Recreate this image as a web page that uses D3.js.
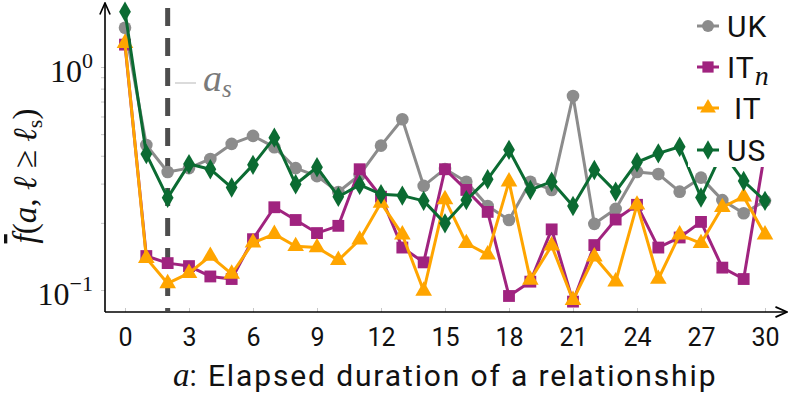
<!DOCTYPE html>
<html>
<head>
<meta charset="utf-8">
<script src="https://cdn.jsdelivr.net/npm/d3@7"></script>
<style>
  body { margin: 0; background: #fff; }
  svg text { font-family: Roboto, "Noto Sans", sans-serif; }
  .math { font-family: "Liberation Serif", "DejaVu Serif", serif; }
</style>
</head>
<body>
<div id="chart"></div>
<script>
// elapsed duration a = 0..30
var ages = d3.range(0, 31);
var xTicks = [0, 3, 6, 9, 12, 15, 18, 21, 24, 27, 30];
var yMinor = [0.1, 0.2, 0.3, 0.4, 0.5, 0.6, 0.7, 0.8, 0.9, 1];
var yMajor = [{v: 0.1, exp: "\u22121"}, {v: 1, exp: "0"}];
var names = ["UK", "IT_n", "IT", "US"];

var uk  = [1.50,0.447,0.338,0.352,0.387,0.452,0.491,0.437,0.352,0.324,0.275,0.328,0.444,0.583,0.293,0.349,0.306,0.238,0.206,0.306,0.281,0.741,0.198,0.231,0.338,0.331,0.276,0.319,0.253,0.221,0.251];
var itn = [1.26,0.142,0.132,0.128,0.115,0.112,0.169,0.235,0.206,0.180,0.194,0.348,0.262,0.155,0.133,0.348,0.281,0.224,0.094,0.109,0.187,0.0887,0.159,0.207,0.241,0.155,0.172,0.202,0.126,0.112,0.42];
var it  = [1.28,0.139,0.107,0.119,0.142,0.118,0.163,0.178,0.157,0.155,0.136,0.168,0.246,0.177,0.099,0.255,0.162,0.144,0.306,0.111,0.158,0.090,0.141,0.109,0.241,0.112,0.177,0.162,0.235,0.262,0.177];
var us  = [1.77,0.407,0.259,0.367,0.348,0.288,0.364,0.482,0.298,0.355,0.262,0.296,0.269,0.265,0.251,0.199,0.253,0.314,0.425,0.281,0.306,0.238,0.345,0.276,0.374,0.410,0.439,0.260,0.416,0.308,0.251];
var aS = 2;

var colors = ["#8c8c8c", "#a0237f", "#ffa500", "#0b6b32"];
var symbols = [d3.symbolCircle, d3.symbolSquare, d3.symbolTriangle, d3.symbolDiamond];
var sizes = [125, 140, 120, 120];
var allValues = [uk, itn, it, us];

var W = 789, H = 396;
var svg = d3.select("#chart").append("svg")
  .attr("width", W).attr("height", H);

var x = d3.scaleLinear().domain([0, 30]).range([125, 765]);
var y = d3.scaleLog().domain([0.1, 1]).range([290, 67]);

var axisX0 = 105, axisY0 = 312;

// arrow heads
var defs = svg.append("defs");
defs.append("marker").attr("id", "arr")
  .attr("viewBox", "0 0 10 10").attr("refX", 9).attr("refY", 5)
  .attr("markerWidth", 8).attr("markerHeight", 8).attr("orient", "auto")
  .append("path").attr("d", "M0,1 L9,5 L0,9").attr("fill", "none")
  .attr("stroke", "#000").attr("stroke-width", 1.3);

// x ticks
var gx = svg.append("g").attr("transform", "translate(0," + axisY0 + ")")
  .call(d3.axisBottom(x).tickValues(xTicks).tickSizeInner(-4).tickSizeOuter(0).tickPadding(10));
gx.select(".domain").remove();
gx.selectAll(".tick line").attr("stroke", "#c8c8c8");
gx.selectAll(".tick text").attr("font-size", 25).attr("fill", "#111")
  .attr("font-family", "Roboto, sans-serif").attr("dy", "0.95em");

// y ticks
var gy = svg.append("g").attr("transform", "translate(" + axisX0 + ",0)")
  .call(d3.axisLeft(y).tickValues(yMinor).tickFormat("").tickSizeInner(4).tickSizeOuter(0));
gy.select(".domain").remove();
gy.selectAll(".tick line").attr("stroke", "#c8c8c8");

yMajor.forEach(function(m) {
  var t = svg.append("text").attr("class", "math")
    .attr("x", 93).attr("y", y(m.v) + 15)
    .attr("text-anchor", "end").attr("font-size", 32).attr("fill", "#111");
  t.append("tspan").text("10");
  t.append("tspan").attr("font-size", 22).attr("dy", -14).text(m.exp);
});

// spines
svg.append("line").attr("x1", axisX0).attr("x2", axisX0)
  .attr("y1", axisY0).attr("y2", 3)
  .attr("stroke", "#000").attr("stroke-width", 1.6).attr("marker-end", "url(#arr)");
svg.append("line").attr("x1", axisX0).attr("x2", 787)
  .attr("y1", axisY0).attr("y2", axisY0)
  .attr("stroke", "#000").attr("stroke-width", 1.6).attr("marker-end", "url(#arr)");

// a_s dashed marker
svg.append("line").attr("x1", x(aS)).attr("x2", x(aS))
  .attr("y1", 8).attr("y2", axisY0 - 1)
  .attr("stroke", "#4d4d4d").attr("stroke-width", 5)
  .attr("stroke-dasharray", "18,12");
svg.append("line").attr("x1", 175).attr("x2", 196).attr("y1", 83).attr("y2", 83)
  .attr("stroke", "#cfcfcf").attr("stroke-width", 1.5);
var as = svg.append("text").attr("class", "math").attr("x", 203).attr("y", 91)
  .attr("font-size", 38).attr("fill", "#7a7a7a").attr("font-style", "italic");
as.append("tspan").text("a");
as.append("tspan").attr("font-size", 25).attr("dy", 6).text("s");

// series
var line = d3.line().x(function(d, i) { return x(ages[i]); }).y(function(d) { return y(d); });
allValues.forEach(function(vals, k) {
  var g = svg.append("g");
  g.append("path").datum(vals).attr("d", line)
    .attr("fill", "none").attr("stroke", colors[k]).attr("stroke-width", 3)
    .attr("stroke-linejoin", "round");
  g.selectAll("path.pt").data(vals).enter().append("path").attr("class", "pt")
    .attr("transform", function(d, i) { return "translate(" + x(ages[i]) + "," + y(d) + ")"; })
    .attr("d", d3.symbol().type(symbols[k]).size(sizes[k]))
    .attr("fill", colors[k]);
});

// legend
var leg = svg.append("g");
leg.append("rect").attr("x", 688).attr("y", 4).attr("width", 92).attr("height", 163).attr("fill", "#fff");
var rowsY = [26, 67, 108, 150];
names.forEach(function(n, k) {
  var r = leg.append("g").attr("transform", "translate(0," + rowsY[k] + ")");
  r.append("line").attr("x1", 697).attr("x2", 719).attr("stroke", colors[k]).attr("stroke-width", 3);
  r.append("path").attr("transform", "translate(708,0)")
    .attr("d", d3.symbol().type(symbols[k]).size(sizes[k] * 0.9)).attr("fill", colors[k]);
  var t = r.append("text").attr("x", n === "IT" ? 734 : 727).attr("y", 11)
    .attr("font-size", 30).attr("letter-spacing", 1).attr("fill", "#111");
  if (n === "IT_n") {
    t.append("tspan").text("IT");
    t.append("tspan").attr("class", "math").attr("font-style", "italic")
      .attr("font-size", 28).attr("dy", 7).text("n");
  } else {
    t.text(n);
  }
});

// axis labels
var xl = svg.append("text").attr("x", 173).attr("y", 386).attr("font-size", 30).attr("fill", "#111");
xl.append("tspan").attr("class", "math").attr("font-style", "italic").attr("font-size", 33).text("a");
xl.append("tspan").attr("textLength", 526).attr("lengthAdjust", "spacing")
  .text(": Elapsed duration of a relationship");

var yl = svg.append("text").attr("class", "math")
  .attr("transform", "translate(36,176) rotate(-90)")
  .attr("text-anchor", "middle").attr("font-size", 33).attr("fill", "#111");
yl.append("tspan").attr("font-style", "italic").attr("text-decoration", "overline").text("f");
yl.append("tspan").text("(");
yl.append("tspan").attr("font-style", "italic").text("a");
yl.append("tspan").text(", ");
yl.append("tspan").attr("font-style", "italic").text("\u2113");
yl.append("tspan").text(" \u2265 ");
yl.append("tspan").attr("font-style", "italic").text("\u2113");
yl.append("tspan").attr("font-size", 22).attr("dy", 6).text("s");
yl.append("tspan").attr("dy", -6).text(")");
</script>
</body>
</html>
